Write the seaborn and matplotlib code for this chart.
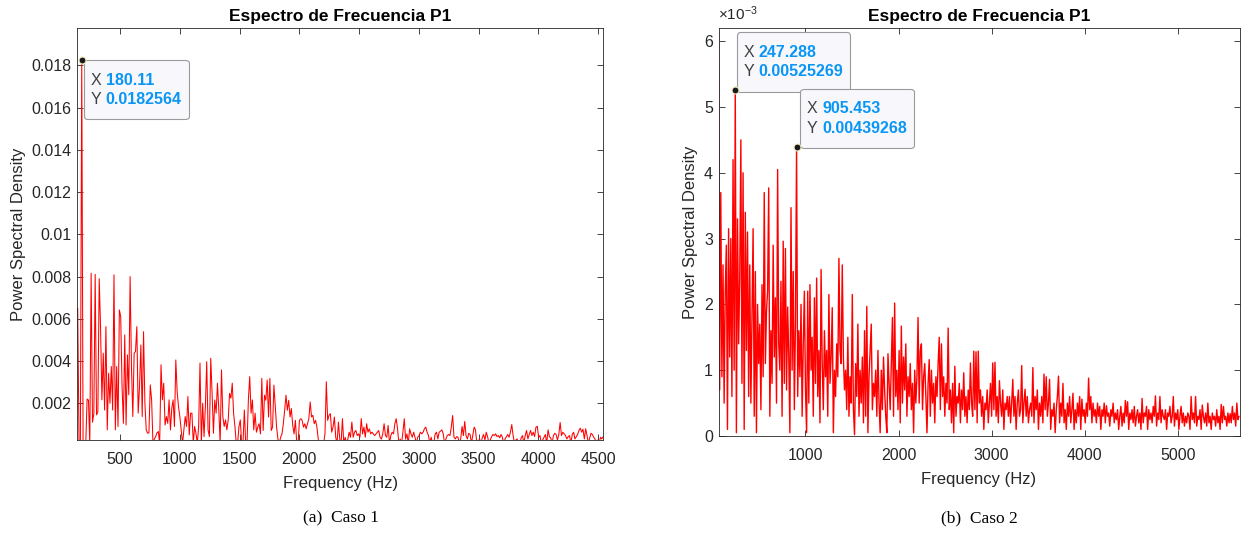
import numpy as np
import pandas as pd
import matplotlib
matplotlib.use("Agg")
import matplotlib.pyplot as plt
import seaborn as sns
from matplotlib.offsetbox import TextArea, HPacker, VPacker, AnnotationBbox, DrawingArea
from matplotlib.ticker import FixedLocator, FuncFormatter

# ---------------- data ----------------
# Caso 1: PSD values in units of 1e-3, uniform frequency bins
caso1_f_start = 146.39
caso1_f_step = 11.24
psd_caso1_e3 = [
    6.5, 0.1, 0.1, 18.2564, 0.1, 0.1, 0.1, 2.2, 2.15, 0.1,
    8.16, 1.1, 1.5, 8.1, 1.45, 1.6, 7.9, 5.6, 2.16, 4.37,
    1.68, 5.63, 0.74, 3.42, 2.0, 3.74, 1.68, 8.08, 0.74, 3.74,
    0.9, 6.42, 6.1, 2.79, 1.05, 5.24, 0.97, 4.29, 2.4, 8.0,
    3.74, 1.37, 4.37, 4.45, 5.63, 1.53, 2.79, 4.76, 1.37, 5.39,
    2.0, 0.74, 0.58, 0.6, 2.87, 2.16, 0.1, 0.3, 0.42, 0.6,
    0.66, 0.1, 3.82, 2.16, 2.95, 0.97, 1.37, 1.05, 2.16, 0.74,
    1.76, 2.16, 0.9, 4.05, 2.55, 1.84, 1.37, 0.74, 0.1, 0.74,
    1.37, 0.9, 2.32, 0.5, 1.53, 1.53, 0.1, 0.9, 0.58, 0.1,
    0.9, 3.9, 0.1, 2.0, 0.42, 1.84, 3.97, 0.74, 0.42, 4.13,
    2.47, 0.58, 2.16, 1.53, 2.95, 1.68, 0.1, 3.58, 1.37, 0.9,
    1.21, 0.74, 1.21, 2.47, 2.24, 2.95, 1.53, 0.9, 0.1, 0.1,
    0.9, 1.21, 0.1, 0.1, 1.68, 0.1, 0.1, 2.16, 3.26, 1.53,
    2.16, 0.74, 1.53,
    0.63, 0.87, 1.03, 0.55, 3.18, 0.71, 2.38, 2.14, 3.1, 1.35,
    3.18, 0.71, 0.87, 2.86, 1.83, 0.87, 0.3, 0.1, 0.39, 0.55,
    1.03, 1.67, 2.38, 1.67, 2.14, 1.35, 1.75, 0.95, 0.55, 1.19,
    0.1, 0.1, 1.19, 1.27, 1.19, 0.87, 1.03, 0.79, 1.03, 1.27,
    2.06, 1.35, 1.43, 1.03, 1.19, 0.87, 0.3, 0.1, 0.1, 0.1,
    0.1, 0.55, 3.02, 1.19, 1.43, 1.51, 0.63, 0.87, 1.35, 0.39,
    0.1, 1.11, 0.3, 0.1, 1.27, 0.1, 0.39, 0.1, 0.3, 0.63,
    0.39, 1.11, 0.39, 0.63, 0.71, 0.47, 0.55, 0.39, 1.27, 0.55,
    0.87, 0.39, 1.03, 0.63, 0.79, 0.55, 0.63, 0.55, 0.47, 0.55,
    0.63, 0.71, 0.39, 0.3, 0.55, 1.03, 0.47, 0.39, 0.95, 0.1,
    0.47, 0.63, 0.55, 1.03, 1.27, 0.79, 0.1, 0.3, 0.1, 0.63,
    1.27, 0.3, 0.55, 0.1, 0.79, 0.55, 0.39, 0.63, 0.39, 0.1,
    0.39, 0.47, 0.63, 0.55, 0.63, 0.79, 0.87, 0.63, 0.47, 0.1,
    0.39, 0.1,
    0.1, 0.55, 0.63, 0.31, 0.63, 0.68, 0.74, 0.55, 0.1, 0.31,
    0.47, 0.52, 0.47, 0.87, 1.42, 0.39, 0.31, 0.42, 0.39, 0.1,
    0.31, 0.9, 0.47, 1.14, 0.47, 0.31, 0.58, 0.52, 0.1, 0.47,
    0.87, 0.74, 0.1, 0.1, 0.31, 0.1, 0.36, 0.52, 0.26, 0.63,
    0.42, 0.1, 0.26, 0.42, 0.52, 0.47, 0.55, 0.42, 0.47, 0.36,
    0.52, 0.39, 0.1, 0.31, 0.42, 0.52, 0.39, 0.63, 0.99, 0.47,
    0.1, 0.26, 0.31, 0.1, 0.1, 0.36, 0.47, 0.1, 0.47, 0.71,
    0.31, 0.52, 0.71, 0.47, 0.63, 0.42, 0.87, 0.91, 0.39, 0.47,
    0.1, 0.26, 0.39, 0.52, 0.1, 0.74, 0.42, 0.36, 0.1, 0.47,
    0.58, 0.52, 0.26, 0.52, 1.09, 0.47, 0.63, 0.55, 0.47, 0.31,
    0.42, 0.47, 0.1, 0.52, 0.63, 0.31, 0.42, 0.52, 0.71, 0.82,
    0.63, 0.77, 0.31, 0.79, 0.47, 0.1, 0.36, 0.58, 0.52, 0.39,
    0.29, 0.1, 0.26, 0.1, 0.39, 0.31, 0.42,
]

# Caso 2: PSD values in units of 1e-3, uniform frequency bins
caso2_f_start = 67.79
caso2_f_step = 11.9666
psd_caso2_e3 = [
    6.15, 0.7, 3.7, 0.9, 2.6, 0.5, 2.2, 2.9, 0.1, 3.15, 1.2, 3.0, 0.6, 4.2, 1.0, 5.25269, 0.05, 3.3, 1.4, 2.4,
    4.5, 0.8, 4.0, 0.1, 3.4, 1.3, 3.1, 0.6, 2.6, 0.5, 1.8, 3.15, 0.3, 2.5, 0.05, 2.0, 1.1, 1.7, 0.4, 2.3,
    0.9, 3.7, 1.1, 1.9, 2.2, 3.77, 0.3, 1.6, 0.8, 2.9, 1.2, 2.1, 0.5, 4.05, 1.4, 1.0, 2.35, 0.3, 2.96, 0.8,
    2.85, 0.7, 1.96, 1.2, 0.05, 3.47, 1.0, 2.5, 0.4, 1.7, 4.39268, 0.6, 1.6, 0.9, 2.0, 0.3, 1.4, 2.2, 0.7, 0.05,
    2.2, 0.5, 2.3, 1.0, 1.5, 0.3, 2.1, 0.8, 2.4, 0.6, 1.3, 0.2, 2.53, 1.1, 0.4, 1.6, 0.9, 1.3, 0.3, 2.15,
    0.8, 1.2, 1.95, 0.05, 1.0, 0.6, 1.4, 0.9, 2.7, 1.3, 1.1, 2.6, 1.2, 0.7, 1.0, 0.4, 1.5, 0.3, 0.9, 0.5,
    2.15, 0.4, 0.02, 1.1, 0.6, 1.7, 0.3, 1.0, 0.5, 1.2, 0.2, 1.6, 0.3, 1.97, 0.05, 0.9, 1.3, 1.7, 0.4, 0.8,
    0.6, 1.0, 0.3, 1.3, 0.5, 0.05, 1.0, 0.4, 1.2, 0.7, 0.3, 0.05, 1.25, 0.8, 0.4, 1.1, 1.8, 0.3, 2.02, 0.6,
    1.0, 0.4, 1.3, 0.2, 1.67, 0.5, 1.2, 0.7, 1.4, 0.3, 0.9, 0.6, 1.1, 0.4, 0.8, 0.05, 1.0, 0.5, 0.9, 1.8,
    0.5, 1.3, 1.4, 0.4, 0.9, 1.1, 0.6, 0.05, 0.8, 1.16, 0.3, 1.0, 0.5, 0.8, 0.2, 0.9, 0.6, 1.1, 1.5, 0.4,
    1.4, 0.6, 0.9, 0.3, 0.8, 0.5, 1.64, 0.4, 0.7, 0.2, 0.8, 0.05, 1.06, 0.3, 0.6, 0.5, 0.8, 0.2, 0.7, 0.4,
    0.96, 0.3, 0.6, 0.2, 0.7, 0.4, 1.11, 0.5, 0.3, 1.29, 0.4, 1.28, 0.2, 1.29, 0.5, 0.7, 0.3, 0.6, 0.1, 0.5,
    0.4, 0.7, 0.2, 0.5, 0.8, 0.3, 1.11, 0.4, 1.12, 0.3, 0.6, 0.2, 0.84, 0.5, 0.3, 0.7, 0.1, 0.5, 0.4, 0.6,
    0.3, 0.6, 0.2, 0.5, 0.86, 0.3, 0.6, 0.1, 0.5, 0.7, 0.3, 0.4, 1.07, 0.2, 0.5, 0.71, 0.3, 0.6, 0.2, 0.4,
    0.5, 0.3, 1.04, 0.2, 0.6, 0.4, 0.7, 0.1, 0.5, 0.3, 0.6, 0.2, 0.94, 0.4, 0.9, 0.3, 0.5, 0.86, 0.1, 0.4,
    0.3, 0.5, 0.05, 0.4, 0.6, 0.91, 0.2, 0.5, 0.3, 0.8, 0.2, 0.4, 0.1, 0.5, 0.3, 0.6, 0.2, 0.4, 0.65, 0.1,
    0.4, 0.2, 0.5, 0.3, 0.6, 0.1, 0.56, 0.3, 0.4, 0.2, 0.5, 0.3, 0.88, 0.4, 0.6, 0.2, 0.5, 0.3, 0.4, 0.2,
    0.5, 0.3, 0.45, 0.1, 0.4, 0.3, 0.5, 0.2, 0.46, 0.3, 0.35, 0.15, 0.4, 0.3, 0.5, 0.2, 0.35, 0.25, 0.4, 0.1,
    0.3, 0.45, 0.15, 0.35, 0.2, 0.54, 0.3, 0.52, 0.1, 0.35, 0.25, 0.4, 0.2, 0.45, 0.15, 0.3, 0.4, 0.2, 0.35, 0.1,
    0.57, 0.2, 0.35, 0.3, 0.45, 0.1, 0.4, 0.25, 0.35, 0.2, 0.45, 0.3, 0.61, 0.15, 0.35, 0.25, 0.6, 0.2, 0.4, 0.3,
    0.25, 0.4, 0.1, 0.35, 0.3, 0.45, 0.2, 0.3, 0.6, 0.15, 0.35, 0.25, 0.4, 0.1, 0.3, 0.45, 0.2, 0.35, 0.15, 0.3,
    0.2, 0.35, 0.3, 0.1, 0.6, 0.25, 0.35, 0.2, 0.6, 0.15, 0.3, 0.25, 0.4, 0.1, 0.47, 0.3, 0.2, 0.35, 0.15, 0.5,
    0.2, 0.3, 0.1, 0.35, 0.25, 0.3, 0.15, 0.4, 0.2, 0.3, 0.1, 0.48, 0.2, 0.45, 0.25, 0.3, 0.15, 0.35, 0.2, 0.34,
    0.2, 0.45, 0.25, 0.35, 0.15, 0.5, 0.25, 0.3,
]

# data tips (x, y)
tips_caso1 = [(180.11, 0.0182564)]
tips_caso2 = [(247.288, 0.00525269), (905.453, 0.00439268)]

title_text = "Espectro de Frecuencia P1"
xlabel_text = "Frequency (Hz)"
ylabel_text = "Power Spectral Density"
captions = ["(a)  Caso 1", "(b)  Caso 2"]
xticks_caso1 = [500, 1000, 1500, 2000, 2500, 3000, 3500, 4000, 4500]
yticks_caso1 = [0.002, 0.004, 0.006, 0.008, 0.010, 0.012, 0.014, 0.016, 0.018]
xticks_caso2 = [1000, 2000, 3000, 4000, 5000]
yticks_caso2 = [0, 0.001, 0.002, 0.003, 0.004, 0.005, 0.006]

# ---------------- build frames ----------------
f1 = caso1_f_start + caso1_f_step * np.arange(len(psd_caso1_e3))
f2 = caso2_f_start + caso2_f_step * np.arange(len(psd_caso2_e3))
df1 = pd.DataFrame({"freq": f1, "psd": np.array(psd_caso1_e3) * 1e-3})
df2 = pd.DataFrame({"freq": f2, "psd": np.array(psd_caso2_e3) * 1e-3})

# ---------------- style ----------------
sns.set_style("white")
plt.rcParams["font.family"] = ["Liberation Sans", "DejaVu Sans"]
plt.rcParams["mathtext.fontset"] = "custom"
plt.rcParams["mathtext.rm"] = "Liberation Sans"
plt.rcParams["mathtext.it"] = "Liberation Sans:italic"

W, H = 1243, 534
fig = plt.figure(figsize=(W / 100, H / 100), dpi=100)
fig.patch.set_facecolor("white")

ax1 = fig.add_axes([77.3 / W, 1 - 440 / H, (603 - 77.3) / W, (440 - 28) / H])
ax2 = fig.add_axes([718.5 / W, 1 - 436 / H, (1239.5 - 718.5) / W, (436 - 28) / H])

RED = "#ff0000"
sns.lineplot(data=df1, x="freq", y="psd", ax=ax1, color=RED, linewidth=0.75,
             estimator=None, sort=False)
sns.lineplot(data=df2, x="freq", y="psd", ax=ax2, color=RED, linewidth=1.0,
             estimator=None, sort=False)

ax1.set_xlim(143, 4540)
ax1.set_ylim(0.00026, 0.01977)
ax2.set_xlim(67.2, 5661)
ax2.set_ylim(0, 0.0062)

GREY = "#262626"


def style(ax, xt, yt, yfmt):
    ax.set_title(title_text, fontsize=12.5, fontweight="bold", color="black", pad=5)
    ax.set_xlabel(xlabel_text, fontsize=12, color=GREY, labelpad=6.5)
    ax.set_ylabel(ylabel_text, fontsize=12, color=GREY)
    ax.xaxis.set_major_locator(FixedLocator(xt))
    ax.yaxis.set_major_locator(FixedLocator(yt))
    ax.xaxis.set_major_formatter(FuncFormatter(lambda v, p: "%g" % v))
    ax.yaxis.set_major_formatter(FuncFormatter(yfmt))
    ax.tick_params(direction="in", length=4, width=0.6, colors=GREY, labelsize=11.5,
                   bottom=True, left=True, top=True, right=True,
                   labeltop=False, labelright=False)
    ax.tick_params(axis="x", pad=8.5)
    ax.tick_params(axis="y", pad=4)
    for s in ax.spines.values():
        s.set_color(GREY)
        s.set_linewidth(0.6)
        s.set_visible(True)
    ax.set_facecolor("white")


style(ax1, xticks_caso1, yticks_caso1, lambda v, p: "%g" % round(v, 6))
style(ax2, xticks_caso2, yticks_caso2, lambda v, p: "%g" % round(v * 1e3, 6))

ax2.text(0.0, 1.012, r"$\times10^{-3}$", transform=ax2.transAxes, ha="left",
         va="bottom", fontsize=11, color=GREY)


def spacer(h):
    return DrawingArea(1, h, 0, 0)


def datatip(ax, x, y, dx, dy):
    rows = []
    for lab, val in (("X", "%g" % x), ("Y", "%g" % y)):
        rows.append(HPacker(children=[
            TextArea(lab + " ", textprops=dict(color="#404040", fontsize=11.5)),
            TextArea(val, textprops=dict(color="#0a96f5", fontsize=11.5, fontweight="bold")),
        ], align="baseline", pad=0, sep=0))
    box = VPacker(children=[spacer(1)] + rows + [spacer(1)], align="left", pad=0, sep=3)
    ab = AnnotationBbox(box, (x, y), xybox=(dx, dy), xycoords="data",
                        boxcoords="offset pixels", box_alignment=(0, 1),
                        frameon=True, pad=0.5,
                        bboxprops=dict(boxstyle="round,pad=0.5,rounding_size=0.25",
                                       fc="#f8f8fc", ec="#9a9a9a", lw=0.8))
    ax.add_artist(ab)
    ax.plot([x], [y], marker="o", ms=5, mfc="#1a1a1a", mec="#f0ecc0", mew=0.8,
            linestyle="none", zorder=5)


datatip(ax1, tips_caso1[0][0], tips_caso1[0][1], 9, -7)
datatip(ax2, tips_caso2[0][0], tips_caso2[0][1], 8.5, 51)
datatip(ax2, tips_caso2[1][0], tips_caso2[1][1], 10.5, 51)

fig.text(340.5 / W, 1 - 518 / H, captions[0], ha="center", va="center",
         family=["Liberation Serif", "DejaVu Serif"], fontsize=12.5, color="black")
fig.text(979 / W, 1 - 518 / H, captions[1], ha="center", va="center",
         family=["Liberation Serif", "DejaVu Serif"], fontsize=12.5, color="black")

fig.savefig("out.png", dpi=100, facecolor="white")
